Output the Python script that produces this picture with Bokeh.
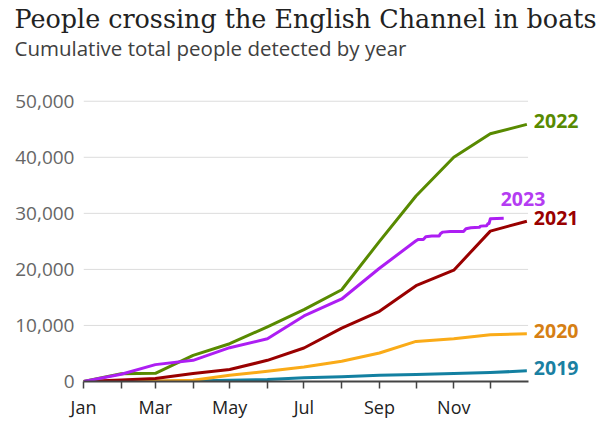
import pandas as pd
from bokeh.plotting import figure
from bokeh.models import Range1d, FixedTicker, NumeralTickFormatter, Title
from bokeh.core.properties import value
from bokeh.embed import file_html
from bokeh.resources import INLINE

# ---------------- data ----------------
title_text = "People crossing the English Channel in boats"
subtitle_text = "Cumulative total people detected by year"

month_starts = ["01-01", "02-01", "03-01", "04-01", "05-01", "06-01",
                "07-01", "08-01", "09-01", "10-01", "11-01", "12-01"]
month_labels = ["Jan", "Feb", "Mar", "Apr", "May", "Jun",
                "Jul", "Aug", "Sep", "Oct", "Nov", "Dec"]
shown_month_labels = ["Jan", "Mar", "May", "Jul", "Sep", "Nov"]
period_end = "12-31"

monthly_dates = month_starts + [period_end]

values_2019 = [0, 10, 40, 90, 230, 350, 650, 830, 1120, 1240, 1420, 1600, 1900]
values_2020 = [0, 0, 100, 230, 1120, 1830, 2600, 3600, 5090, 7150, 7620, 8330, 8510]
values_2021 = [0, 250, 530, 1420, 2130, 3780, 5970, 9510, 12530, 17100, 19860, 26830, 28600]
values_2022 = [0, 1400, 1450, 4660, 6740, 9750, 12820, 16370, 25000, 33100, 40020, 44200, 45870]

dates_2023 = month_starts[:10] + [
    "10-03", "10-07", "10-09", "10-14", "10-20", "10-21", "10-23", "10-29",
    "11-09", "11-11", "11-15", "11-22", "11-23", "11-28", "11-29", "11-30",
    "12-01", "12-12"]
values_2023 = [0, 1300, 3010, 3780, 6030, 7620, 11700, 14720, 20210, 25100,
               25350, 25350, 25830, 25940, 25960, 26360, 26650, 26770,
               26770, 27250, 27420, 27500, 27720, 27800, 28140, 28200,
               29020, 29140]

y_ticks = [0, 10000, 20000, 30000, 40000, 50000]

series = [
    ("2019", monthly_dates, values_2019, "#1380A1", "#1A80A2"),
    ("2020", monthly_dates, values_2020, "#FAAB18", "#D67F14"),
    ("2021", monthly_dates, values_2021, "#990000", "#990000"),
    ("2022", monthly_dates, values_2022, "#588A00", "#588A00"),
    ("2023", dates_2023, values_2023, "#AD1EF3", "#B43CF2"),
]

# ---------------- helpers ----------------
YEAR0 = pd.Timestamp("2023-01-01")


def day_of_year(md):
    return (pd.Timestamp("2023-" + md) - YEAR0).days


year_length = (pd.Timestamp("2024-01-01") - YEAR0).days
tick_days = [day_of_year(m) for m in month_starts]
overrides = {d: (lab if lab in shown_month_labels else "")
             for d, lab in zip(tick_days, month_labels)}

SANS = "Open Sans"

p = figure(width=607, height=421, output_backend="svg", toolbar_location=None,
           x_range=Range1d(0, 422), y_range=Range1d(0, 57090),
           min_border_left=83, min_border_right=10, min_border_bottom=38,
           min_border_top=61)
p.outline_line_color = None
p.background_fill_color = None
p.border_fill_color = "white"
p.xgrid.visible = False
p.ygrid.visible = False

# titles (subtitle first = nearest to frame)
p.add_layout(Title(text=subtitle_text, text_font=SANS, text_font_size="20.5px",
                   text_font_style="normal", text_color="#404040",
                   align="left", offset=-69, standoff=0), "above")
p.add_layout(Title(text=title_text, text_font="DejaVu Serif", text_font_size="25.4px",
                   text_font_style="normal", text_color="#222222",
                   align="left", offset=-69, standoff=-4), "above")

# gridlines limited to the data period
p.segment(x0=[0] * (len(y_ticks) - 1), x1=[year_length] * (len(y_ticks) - 1),
          y0=y_ticks[1:], y1=y_ticks[1:], line_color="#DCDCDC", line_width=1)

for name, dates, vals, line_col, lab_col in series:
    xs = [day_of_year(d) for d in dates]
    p.line(xs, vals, line_color=line_col, line_width=3, line_join="round")

for name, dates, vals, line_col, lab_col in series:
    xs = [day_of_year(d) for d in dates]
    if name == "2023":
        xo, yo = -3, -19
    else:
        xo, yo = 7, -3
    p.text(x=[xs[-1]], y=[vals[-1]], text=[name], text_color=lab_col,
           text_font=value(SANS), text_font_size="19.5px", text_font_style="bold",
           text_baseline="middle", text_align="left", x_offset=xo, y_offset=yo)

# x axis
xa = p.xaxis[0]
xa.ticker = FixedTicker(ticks=tick_days)
xa.major_label_overrides = overrides
xa.bounds = (0, year_length)
xa.axis_line_color = "#444444"
xa.axis_line_width = 2
xa.major_tick_line_color = "#444444"
xa.major_tick_line_width = 1.5
xa.major_tick_in = 0
xa.major_tick_out = 7
xa.minor_tick_line_color = None
xa.major_label_standoff = 6
xa.major_label_text_font = SANS
xa.major_label_text_font_size = "18px"
xa.major_label_text_color = "#222222"

# y axis
ya = p.yaxis[0]
ya.ticker = FixedTicker(ticks=y_ticks)
ya.formatter = NumeralTickFormatter(format="0,0")
ya.axis_line_color = None
ya.major_tick_line_color = None
ya.minor_tick_line_color = None
ya.major_label_standoff = 3
ya.major_label_text_font = SANS
ya.major_label_text_font_size = "19px"
ya.major_label_text_color = "#666666"

open("out.html", "w").write(file_html(p, INLINE))
